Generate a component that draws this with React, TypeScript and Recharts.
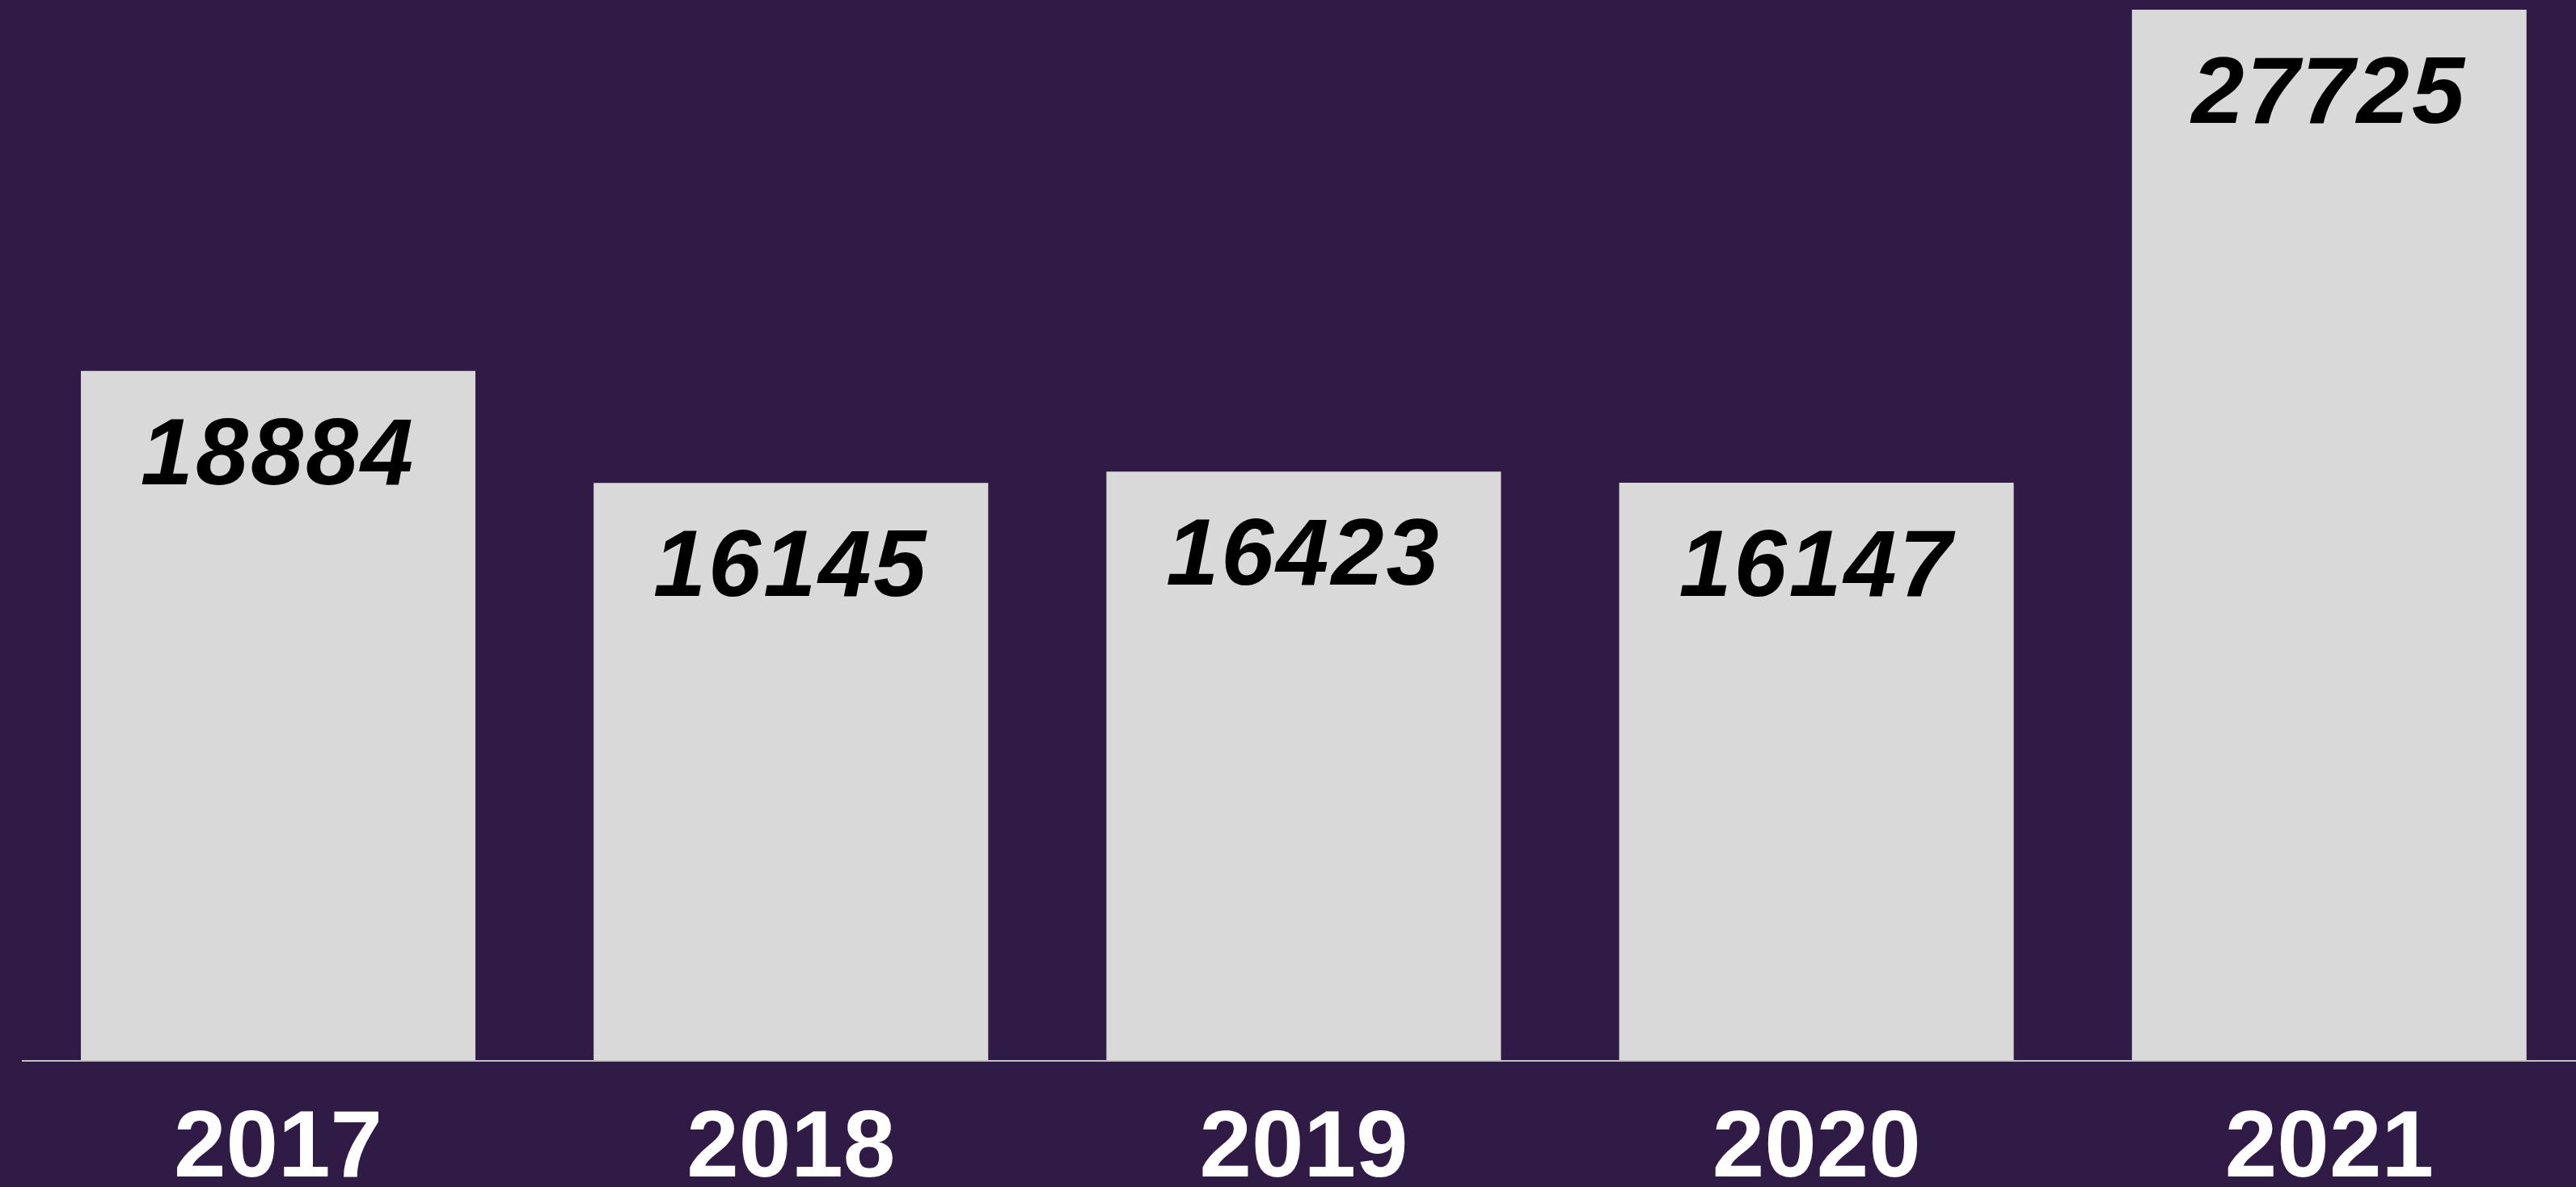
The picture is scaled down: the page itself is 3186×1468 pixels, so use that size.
import { BarChart, Bar, XAxis, YAxis, LabelList } from 'recharts';

const years = ['2017', '2018', '2019', '2020', '2021'];
const counts = [18884, 16145, 16423, 16147, 27725];
const yDomain: [number, number] = [2000, 27725];

const data = years.map((year, i) => ({ year, count: counts[i] }));

const ValueLabel = (props: any) => {
  const { x, y, width, value } = props;
  return (
    <text
      x={Number(x) + Number(width) / 2}
      y={Number(y) + 140}
      textAnchor="middle"
      fill="#000"
      fontFamily="'Liberation Sans', Arial, sans-serif"
      fontWeight={700}
      fontStyle="italic"
      fontSize={117}
      letterSpacing={3}
    >
      {value}
    </text>
  );
};

export default function App() {
  return (
    <div style={{ position: 'fixed', top: 0, left: 0, width: 3186, height: 1468, overflow: 'hidden', background: '#301b47' }}>
      <BarChart width={3198} height={1468} data={data} margin={{ top: 12, right: 0, left: 27, bottom: 0 }}>
        <XAxis
          dataKey="year"
          height={156}
          axisLine={{ stroke: '#bfbfbf', strokeWidth: 2 }}
          tickLine={false}
          tickSize={0}
          tickMargin={61}
          tick={{ fill: '#fff', fontSize: 116, fontWeight: 700, fontFamily: "'Liberation Sans', Arial, sans-serif" }}
          interval={0}
        />
        <YAxis hide domain={yDomain} allowDataOverflow />
        <Bar dataKey="count" fill="#d9d9d9" barSize={488} isAnimationActive={false}>
          <LabelList dataKey="count" content={ValueLabel} />
        </Bar>
      </BarChart>
    </div>
  );
}
